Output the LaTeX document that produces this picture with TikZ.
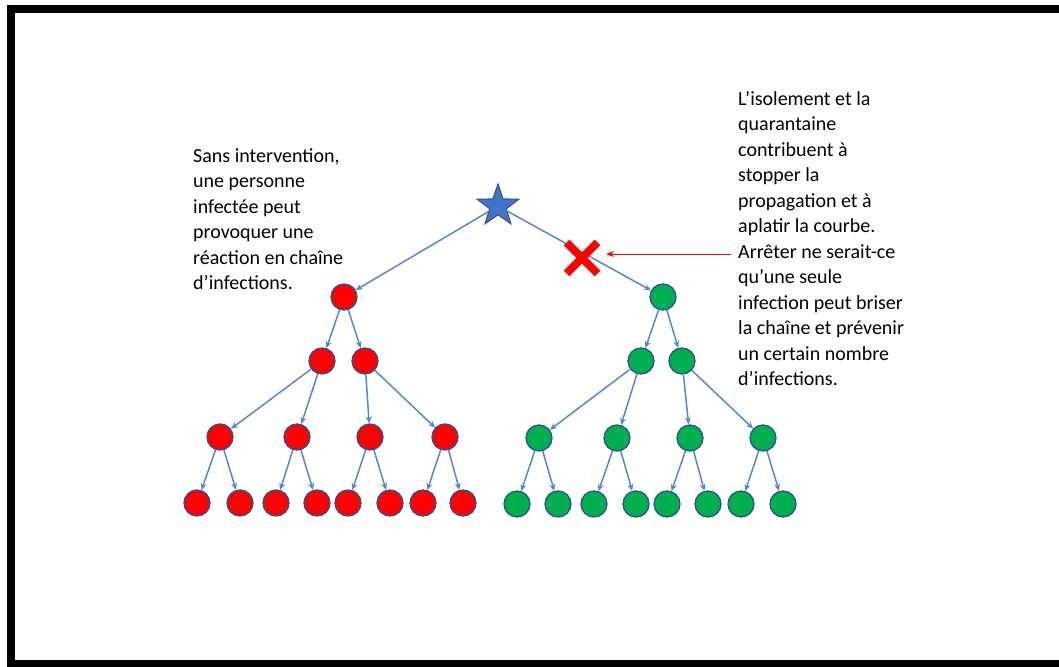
\documentclass[tikz,border=0pt]{standalone}
\usepackage{fontspec}
\setmainfont{Carlito}
\usetikzlibrary{arrows.meta}
\usetikzlibrary{shapes.geometric}
\usetikzlibrary{shapes.misc}

\definecolor{EdgeBlue}{RGB}{84,134,214}
\definecolor{StarBlue}{RGB}{68,114,196}
\definecolor{RimBlue}{RGB}{47,82,143}
\definecolor{SickRed}{RGB}{255,0,0}
\definecolor{SafeGreen}{RGB}{0,176,80}

\tikzset{Person/.style = {circle, draw = RimBlue, line width = 1.3, minimum size = 26, inner sep = 0}}
\tikzset{Sick/.style = {Person, fill = SickRed}}
\tikzset{Safe/.style = {Person, fill = SafeGreen}}
\tikzset{Spread/.style = {EdgeBlue, line width = 1.5, -{Stealth[length = 7, width = 6]}}}
\tikzset{Note/.style = {font = \fontsize{20}{25.5}\selectfont, align = left, anchor = north west, inner sep = 0}}

\begin{document}
\begin{tikzpicture}[x = 1pt, y = -1pt]
  \useasboundingbox (0, 0) rectangle (1059, 666);
  \draw[line width = 8] (11, 9) rectangle (1070, 664);

  % texts
  \node[Note] (left note) at (193, 148) {Sans intervention,\\une personne\\infectée peut\\provoquer une\\réaction en chaîne\\d’infections.};
  \node[Note] (right note) at (738, 91) {L'isolement et la\\quarantaine\\contribuent à\\stopper la\\propagation et à\\aplatir la courbe.\\Arrêter ne serait-ce\\qu’une seule\\infection peut briser\\la chaîne et prévenir\\un certain nombre\\d’infections.};

  % the first case
  \node[star, star points = 5, star point ratio = 2.5, minimum size = 44, inner sep = 0,
  fill = StarBlue, draw = RimBlue, line width = 1] (root) at (498, 206) {};

  \node[Sick] (r1) at (344, 297) {};
  \node[Safe] (g1) at (663, 297) {};

  \node[Sick] (r21) at (322, 361) {};
  \node[Sick] (r22) at (365, 361) {};
  \node[Safe] (g21) at (641, 361) {};
  \node[Safe] (g22) at (682, 361) {};

  \node[Sick] (r31) at (220, 437) {};
  \node[Sick] (r32) at (297, 437) {};
  \node[Sick] (r33) at (370, 437) {};
  \node[Sick] (r34) at (445, 437) {};
  \node[Safe] (g31) at (539, 438) {};
  \node[Safe] (g32) at (617, 438) {};
  \node[Safe] (g33) at (690, 438) {};
  \node[Safe] (g34) at (763, 438) {};

  \foreach \i/\x in {1/197, 2/240, 3/276, 4/317, 5/348, 6/390, 7/423, 8/463}
    \node[Sick] (r4\i) at (\x, 503) {};
  \foreach \i/\x in {1/517, 2/558, 3/594, 4/636, 5/667, 6/708, 7/741, 8/783}
    \node[Safe] (g4\i) at (\x, 504) {};

  \draw[Spread] (root) -- (r1);
  \draw[Spread] (root) -- (g1);
  \draw[Spread] (r1) -- (r21);
  \draw[Spread] (r1) -- (r22);
  \draw[Spread] (g1) -- (g21);
  \draw[Spread] (g1) -- (g22);

  \draw[Spread] (r21) -- (r31);
  \draw[Spread] (r21) -- (r32);
  \draw[Spread] (r22) -- (r33);
  \draw[Spread] (r22) -- (r34);
  \draw[Spread] (g21) -- (g31);
  \draw[Spread] (g21) -- (g32);
  \draw[Spread] (g22) -- (g33);
  \draw[Spread] (g22) -- (g34);

  \foreach \p/\a/\b in {1/1/2, 2/3/4, 3/5/6, 4/7/8} {
    \draw[Spread] (r3\p) -- (r4\a);
    \draw[Spread] (r3\p) -- (r4\b);
    \draw[Spread] (g3\p) -- (g4\a);
    \draw[Spread] (g3\p) -- (g4\b);
  }

  % the break
  \node[cross out, draw = red, line width = 8, minimum size = 23, inner sep = 0] (stop) at (582, 258) {};
  \coordinate (note tail) at (731, 254);
  \coordinate (note tip) at (606, 254);
  \draw[red, line width = 1, -{Stealth[length = 8, width = 6]}] (note tail) -- (note tip);
\end{tikzpicture}
\end{document}
